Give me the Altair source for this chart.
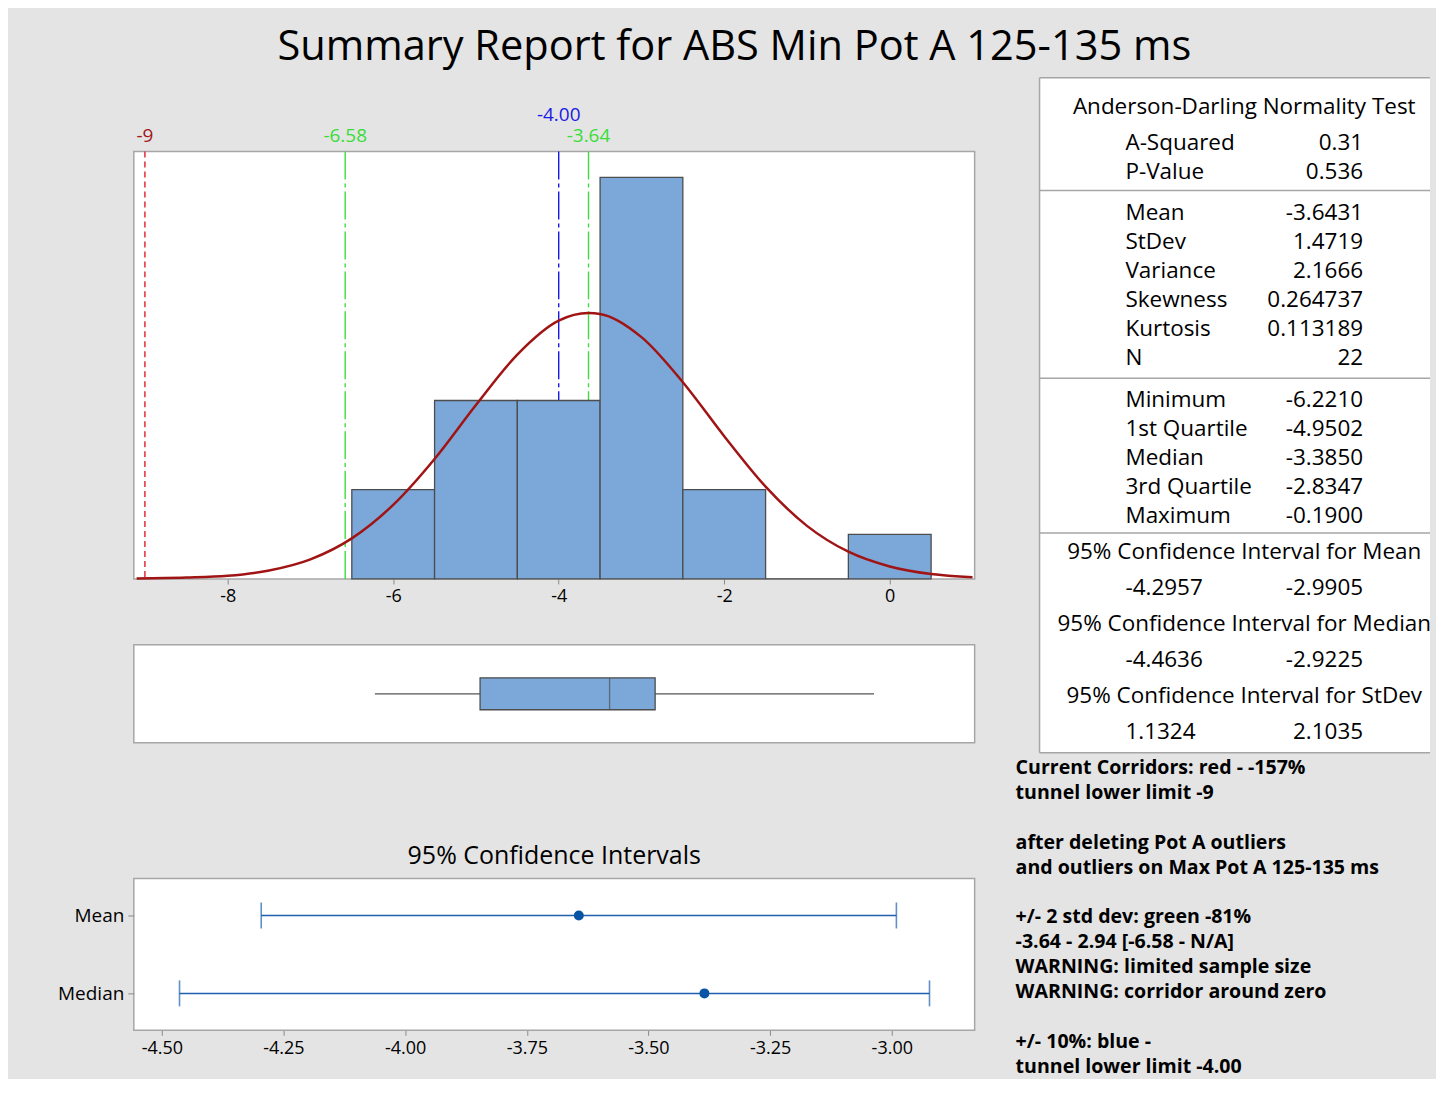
import altair as alt
import pandas as pd

# ------------------------------------------------------------------ data
title_text = "Summary Report for ABS Min Pot A 125-135 ms"

# histogram (bin width 1, bins centred on integers)
bin_starts = [-6.5, -5.5, -4.5, -3.5, -2.5, -1.5, -0.5]
bin_counts = [2, 4, 4, 9, 2, 0, 1]
bin_width = 1.0

# fitted normal curve (count scale)
curve_x = [-9.1, -8.5, -8.0, -7.5, -7.0, -6.5, -6.0, -5.5, -5.0, -4.5, -4.0,
           -3.64, -3.5, -3.0, -2.5, -2.0, -1.5, -1.0, -0.5, 0.0, 0.5, 1.0]
curve_y = [0.01, 0.03, 0.07, 0.19, 0.44, 0.91, 1.66, 2.69, 3.90, 5.03, 5.79,
           5.96, 5.94, 5.42, 4.41, 3.20, 2.07, 1.19, 0.61, 0.28, 0.11, 0.04]

# corridor reference lines
ref_values = [-9.0, -6.58, -4.00, -3.64]
ref_labels = ["-9", "-6.58", "-4.00", "-3.64"]
ref_kinds = ["red", "green", "blue", "green"]

hist_ticks = [-8, -6, -4, -2, 0]

# box plot
box_min, box_q1, box_median, box_q3, box_max = -6.2210, -4.9502, -3.3850, -2.8347, -0.1900

# 95% confidence intervals
ci_names = ["Mean", "Median"]
ci_est = [-3.6431, -3.3850]
ci_lo = [-4.2957, -4.4636]
ci_hi = [-2.9905, -2.9225]
ci_ticks = [-4.50, -4.25, -4.00, -3.75, -3.50, -3.25, -3.00]

# statistics table
ad_header = "Anderson-Darling Normality Test"
ad_labels = ["A-Squared", "P-Value"]
ad_values = ["0.31", "0.536"]
desc_labels = ["Mean", "StDev", "Variance", "Skewness", "Kurtosis", "N"]
desc_values = ["-3.6431", "1.4719", "2.1666", "0.264737", "0.113189", "22"]
quart_labels = ["Minimum", "1st Quartile", "Median", "3rd Quartile", "Maximum"]
quart_values = ["-6.2210", "-4.9502", "-3.3850", "-2.8347", "-0.1900"]
ci_titles = ["95% Confidence Interval for Mean",
             "95% Confidence Interval for Median",
             "95% Confidence Interval for StDev"]
ci_low_txt = ["-4.2957", "-4.4636", "1.1324"]
ci_high_txt = ["-2.9905", "-2.9225", "2.1035"]

notes = ["Current Corridors: red - -157%",
         "tunnel lower limit -9",
         "",
         "after deleting Pot A outliers",
         "and outliers on Max Pot A 125-135 ms",
         "",
         "+/- 2 std dev: green -81%",
         "-3.64 - 2.94 [-6.58 - N/A]",
         "WARNING: limited sample size",
         "WARNING: corridor around zero",
         "",
         "+/- 10%: blue -",
         "tunnel lower limit -4.00"]

# ------------------------------------------------------------------ style / layout
FONT = "Open Sans"
W_TXT = 500
BG = "#e4e4e4"
FRAME = "#a6a6a6"
BAR = "#7ba7d9"
EDGE = "#4d4d4d"
CURVE = "#a01414"
CI_BLUE = "#1f5fae"
REF_STYLE = {
    "red": dict(line="#e0202a", text="#a3161b", dash=[6, 4]),
    "green": dict(line="#3fdc3f", text="#38dd38", dash=[28, 4, 4, 4]),
    "blue": dict(line="#1a1ae6", text="#1a1ae6", dash=[28, 4, 4, 4]),
}

HW = 842          # left panels width
HIST_H = 428
BOX_H = 98
CI_H = 152
LABEL_ROW_H = 71
X_DOM = [-9.134, 1.026]
CI_DOM = [-4.5575, -2.8297]
RW = 391          # right panel width
RH = 676          # right panel (table) height
NOTE_STEP = 25

xs = alt.Scale(domain=X_DOM, nice=False, zero=False)
minus_fix = "replace(datum.label, '\u2212', '-')"

hist_axis = alt.Axis(values=hist_ticks, title=None, grid=False, domain=False,
                     labelFont=FONT, labelFontSize=18, labelFontWeight=W_TXT,
                     labelColor="black", tickColor="#8a8a8a", tickSize=5,
                     labelPadding=4, labelExpr=minus_fix)

# ------------------------------------------------------------------ reference labels row
ref_df = pd.DataFrame({"value": ref_values, "label": ref_labels, "kind": ref_kinds})
label_layers = []
for kind, st in REF_STYLE.items():
    label_layers.append(
        alt.Chart(ref_df).transform_filter(alt.datum.kind == kind)
        .mark_text(font=FONT, fontSize=19, fontWeight=W_TXT, color=st["text"], baseline="middle")
        .encode(x=alt.X("value:Q", scale=xs, axis=None),
                y=alt.value(37 if kind == "blue" else 58),
                text="label:N")
    )
labels_row = alt.layer(*label_layers).properties(
    width=HW, height=LABEL_ROW_H,
    view=alt.ViewBackground(fill="transparent", stroke="transparent"))

# ------------------------------------------------------------------ histogram
hist_df = pd.DataFrame({"start": bin_starts,
                        "end": [s + bin_width for s in bin_starts],
                        "count": bin_counts})
curve_df = pd.DataFrame({"x": curve_x, "y": curve_y})
ys = alt.Scale(domain=[0, 9.58], nice=False, zero=True)

rule_layers = []
for kind, st in REF_STYLE.items():
    rule_layers.append(
        alt.Chart(ref_df).transform_filter(alt.datum.kind == kind)
        .mark_rule(color=st["line"], strokeDash=st["dash"], strokeWidth=1.4)
        .encode(x=alt.X("value:Q", scale=xs, axis=hist_axis))
    )
bars = alt.Chart(hist_df).mark_bar(color=BAR, stroke=EDGE, strokeWidth=1.3).encode(
    x=alt.X("start:Q", scale=xs, axis=hist_axis),
    x2="end:Q",
    y=alt.Y("count:Q", scale=ys, axis=None),
    y2=alt.datum(0),
)
curve = alt.Chart(curve_df).mark_line(color=CURVE, strokeWidth=2.5, interpolate="monotone").encode(
    x=alt.X("x:Q", scale=xs, axis=hist_axis),
    y=alt.Y("y:Q", scale=ys, axis=None),
)
hist = alt.layer(*rule_layers, bars, curve).properties(width=HW, height=HIST_H)

# ------------------------------------------------------------------ box plot
box_df = pd.DataFrame({"name": ["ABS Min Pot A"], "min": [box_min], "q1": [box_q1],
                       "median": [box_median], "q3": [box_q3], "max": [box_max]})
by = alt.Y("name:N", axis=None)
whisker = alt.Chart(box_df).mark_rule(color="#555555", strokeWidth=1.3).encode(
    x=alt.X("min:Q", scale=xs, axis=None), x2="max:Q", y=by)
boxr = alt.Chart(box_df).mark_bar(size=32, color=BAR, stroke=EDGE, strokeWidth=1.3).encode(
    x=alt.X("q1:Q", scale=xs, axis=None), x2="q3:Q", y=by)
med = alt.Chart(box_df).mark_tick(size=32, thickness=1.3, color=EDGE).encode(
    x=alt.X("median:Q", scale=xs, axis=None), y=by)
box = alt.layer(whisker, boxr, med).properties(width=HW, height=BOX_H)

# ------------------------------------------------------------------ CI chart
ci_df = pd.DataFrame({"name": ci_names, "est": ci_est, "lo": ci_lo, "hi": ci_hi})
cxs = alt.Scale(domain=CI_DOM, nice=False, zero=False)
ci_xaxis = alt.Axis(values=ci_ticks, title=None, grid=False, domain=False,
                    labelFont=FONT, labelFontSize=18, labelFontWeight=W_TXT,
                    labelColor="black", tickColor="#8a8a8a", tickSize=5, labelPadding=4,
                    labelExpr="replace(format(datum.value, '.2f'), '\u2212', '-')")
cy = alt.Y("name:N", scale=alt.Scale(type="point", domain=ci_names, padding=0.474),
           axis=alt.Axis(title=None, domain=False, grid=False, labelFont=FONT,
                         labelFontSize=19, labelFontWeight=W_TXT, labelColor="black",
                         tickColor="#8a8a8a", tickSize=6, labelPadding=4))
ci_rule = alt.Chart(ci_df).mark_rule(color=CI_BLUE, strokeWidth=1.5).encode(
    x=alt.X("lo:Q", scale=cxs, axis=ci_xaxis), x2="hi:Q", y=cy)
cap_lo = alt.Chart(ci_df).mark_tick(size=26, thickness=1.6, color=CI_BLUE).encode(
    x=alt.X("lo:Q", scale=cxs, axis=ci_xaxis), y=cy)
cap_hi = alt.Chart(ci_df).mark_tick(size=26, thickness=1.6, color=CI_BLUE).encode(
    x=alt.X("hi:Q", scale=cxs, axis=ci_xaxis), y=cy)
ci_pt = alt.Chart(ci_df).mark_circle(size=100, color="#0753a6", opacity=1).encode(
    x=alt.X("est:Q", scale=cxs, axis=ci_xaxis), y=cy)
ci_chart = alt.layer(ci_rule, cap_lo, cap_hi, ci_pt).properties(
    width=HW, height=CI_H,
    title=alt.TitleParams("95% Confidence Intervals", font=FONT, fontSize=25,
                          fontWeight=W_TXT, color="black", offset=10, anchor="middle"))

# ------------------------------------------------------------------ statistics table (right)
rows = []
rows.append(dict(text=ad_header, pos=29, col="center"))
for i, (l, v) in enumerate(zip(ad_labels, ad_values)):
    rows += [dict(text=l, pos=65 + 29 * i, col="left"), dict(text=v, pos=65 + 29 * i, col="right")]
for i, (l, v) in enumerate(zip(desc_labels, desc_values)):
    rows += [dict(text=l, pos=136 + 29 * i, col="left"), dict(text=v, pos=136 + 29 * i, col="right")]
for i, (l, v) in enumerate(zip(quart_labels, quart_values)):
    rows += [dict(text=l, pos=323 + 28.9 * i, col="left"), dict(text=v, pos=323 + 28.9 * i, col="right")]
for i, (t, lo, hi) in enumerate(zip(ci_titles, ci_low_txt, ci_high_txt)):
    rows += [dict(text=t, pos=475 + 72 * i, col="center"),
             dict(text=lo, pos=511 + 72 * i, col="left"),
             dict(text=hi, pos=511 + 72 * i, col="right")]
for i, t in enumerate(notes):
    if t:
        rows.append(dict(text=t, pos=691 + NOTE_STEP * i, col="note"))
tab_df = pd.DataFrame(rows)
sep_df = pd.DataFrame({"pos": [0, 113, 301, 456, RH]})

ry = alt.Scale(domain=[0, RH], nice=False, zero=False, reverse=True)
COLS = {"center": (205, "center", W_TXT, 22.5),
        "left": (86, "left", W_TXT, 22.5),
        "right": (324, "right", W_TXT, 22.5),
        "note": (-24, "left", "bold", 19.6)}
tab_layers = [
    alt.Chart(sep_df).mark_rule(color=FRAME, strokeWidth=1.5).encode(
        y=alt.Y("pos:Q", scale=ry, axis=None), x=alt.value(0), x2=alt.value(RW)),
    alt.Chart(sep_df).transform_filter(alt.datum.pos == RH).mark_rule(color=FRAME, strokeWidth=1.5).encode(
        y=alt.Y("pos:Q", scale=ry, axis=None), y2=alt.value(0), x=alt.value(0)),
]
for col, (xpos, al, fw, fs) in COLS.items():
    tab_layers.append(
        alt.Chart(tab_df).transform_filter(alt.datum.col == col)
        .mark_text(font=FONT, fontSize=fs, fontWeight=fw, align=al, baseline="middle", color="black")
        .encode(x=alt.value(xpos), y=alt.Y("pos:Q", scale=ry, axis=None), text="text:N")
    )
right = alt.layer(*tab_layers).properties(
    width=RW, height=RH, view=alt.ViewBackground(fill="white", stroke="transparent"))

# ------------------------------------------------------------------ assemble
left = alt.vconcat(
    alt.vconcat(labels_row, hist, spacing=0),
    alt.vconcat(box, ci_chart, spacing=99),
    spacing=37,
)
chart = alt.hconcat(left, right, spacing=36).properties(
    title=alt.TitleParams(title_text, font=FONT, fontSize=41.6, fontWeight=W_TXT,
                          color="black", anchor="middle", offset=8, dx=-10),
    padding={"left": 48, "top": 17, "right": 4, "bottom": 0},
).configure(background=BG).configure_view(fill="white", stroke=FRAME, strokeWidth=1.5)

chart.save("out.html", embed_options={"renderer": "svg", "actions": False})
